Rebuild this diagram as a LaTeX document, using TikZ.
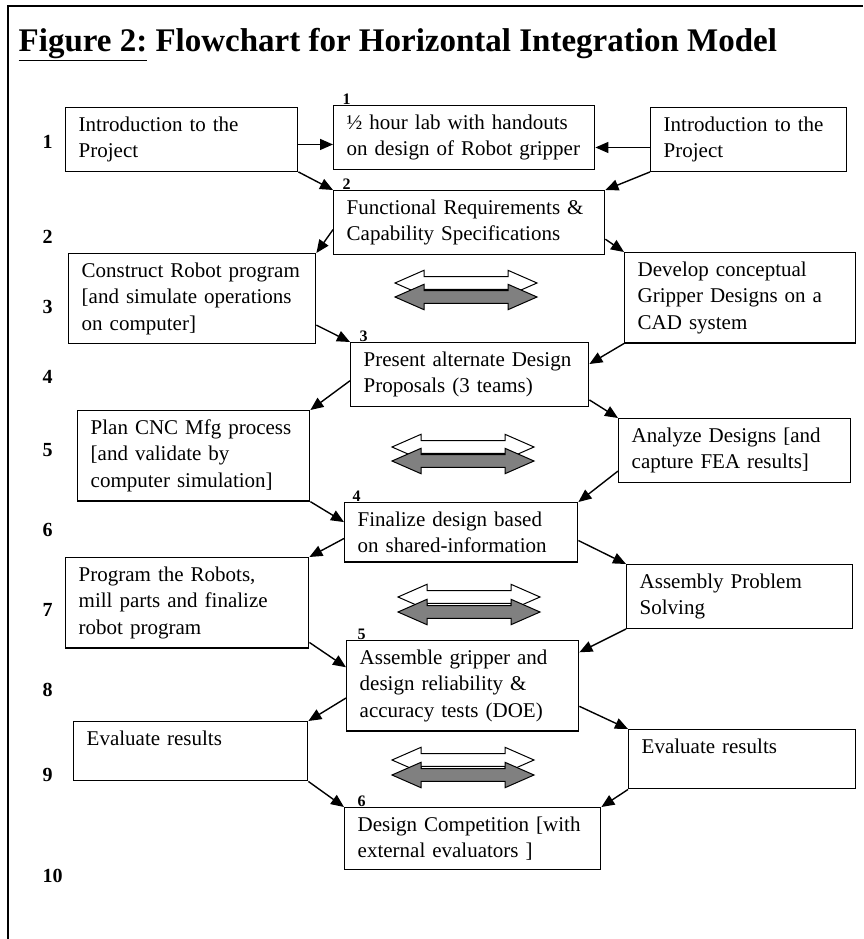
\documentclass[tikz,border=0pt]{standalone}
\usepackage{fontspec}
\setmainfont{Liberation Serif}
\usetikzlibrary{arrows.meta}
\newcommand\boxfont{\fontsize{21}{26.5}\selectfont}
\definecolor{arrow_gray}{RGB}{128,128,128}

\begin{document}
\begin{tikzpicture}[->,>={Triangle[length=13pt,width=11pt]},line width=1.4pt,x=1pt,y=-1pt]
    \tikzstyle{stage}=[draw, line width=1.4pt, anchor=north west, align=left, inner xsep=13pt, inner ysep=9pt, font=\boxfont]
    \tikzstyle{rownum}=[anchor=west, inner sep=0pt, font=\bfseries\fontsize{20}{20}\selectfont]
    \tikzstyle{steplbl}=[anchor=south west, inner sep=0pt, font=\bfseries\fontsize{16}{16}\selectfont]

    \useasboundingbox (0,0) rectangle (863,939);
    \draw[-, line width=2pt] (8,939) -- (8,6) -- (863,6);

    \node[anchor=base west, inner sep=0pt, font=\bfseries\fontsize{33}{33}\selectfont] (title) at (18,52)
      {\underline{Figure 2:} Flowchart for Horizontal Integration Model};

    \foreach \n/\y in {1/142, 2/237, 3/307, 4/377, 5/450, 6/530, 7/610, 8/690, 9/775, 10/876}
      \node[rownum] (row\n) at (42,\y) {\n};

    % left column
    \node[stage, text width=206pt] (l1) at (65,107)  {Introduction to the\\Project};
    \node[stage, text width=221pt] (l3) at (68,253)  {Construct Robot program\\{[}and simulate operations\\on computer]};
    \node[stage, text width=206pt] (l5) at (77,410)  {Plan CNC Mfg process\\{[}and validate by\\computer simulation]};
    \node[stage, text width=217pt] (l7) at (65,557)  {Program the Robots,\\mill parts and finalize\\robot program};
    \node[stage, text width=208pt] (l9) at (73,721)  {Evaluate results\\\mbox{}};
    % centre column
    \node[stage, text width=235pt] (c1) at (333,105) {\char"00BD{} hour lab with handouts\\on design of Robot gripper};
    \node[stage, text width=245pt] (c2) at (333,190) {Functional Requirements \&\\Capability Specifications};
    \node[stage, text width=212pt] (c3) at (350,342) {Present alternate Design\\Proposals (3 teams)};
    \node[stage, text width=207pt] (c4) at (344,502) {Finalize design based\\on shared-information};
    \node[stage, text width=206pt] (c5) at (346,640) {Assemble gripper and\\design reliability \&\\accuracy tests (DOE)};
    \node[stage, text width=230pt] (c6) at (344,807) {Design Competition [with\\external evaluators ]};
    % right column
    \node[stage, text width=170pt] (r1) at (650,107) {Introduction to the\\Project};
    \node[stage, text width=205pt] (r3) at (624,252) {Develop conceptual\\Gripper Designs on a\\CAD system};
    \node[stage, text width=206pt] (r5) at (618,418) {Analyze Designs [and\\capture FEA results]};
    \node[stage, text width=200pt] (r7) at (626,564) {Assembly Problem\\Solving};
    \node[stage, text width=201pt] (r9) at (628,729) {Evaluate results\\\mbox{}};

    \node[steplbl] (s1) at ([xshift=9pt]c1.north west) {1};
    \node[steplbl] (s2) at ([xshift=9pt]c2.north west) {2};
    \node[steplbl] (s3) at ([xshift=9pt]c3.north west) {3};
    \node[steplbl] (s4) at ([xshift=8pt]c4.north west) {4};
    \node[steplbl] (s5) at ([xshift=11pt]c5.north west) {5};
    \node[steplbl] (s6) at ([xshift=13pt]c6.north west) {6};

    % exchange arrows between the teams
    \foreach \cx/\cy/\tone in {466/283/white, 466/297/arrow_gray, 463/447/white, 463/461/arrow_gray,
                               469/597/white, 469/612/arrow_gray, 463/760/white, 463/775/arrow_gray}
      \draw[-, line width=1pt, fill=\tone] (\cx-71,\cy) -- ++(29,-12.7) -- ++(0,6.4) -- ++(84,0) -- ++(0,-6.4)
        -- ++(29,12.7) -- ++(-29,12.7) -- ++(0,-6.4) -- ++(-84,0) -- ++(0,6.4) -- cycle;

    \path
     ([yshift=-5pt]l1.east) edge ([yshift=-5pt]l1.east -| c1.west)
     ([yshift=-8pt]r1.west) edge ([yshift=-8pt]r1.west -| c1.east)
     (l1.south east) edge (c2.north west)
     (r1.south west) edge (c2.north east)
     (c2.183) edge (l3.north east)
     (c2.353) edge (r3.north west)
     (l3.348) edge (c3.north west)
     (r3.south west) edge (c3.5)
     (c3.183) edge (l5.north east)
     (c3.348) edge (r5.north west)
     (l5.south east) edge (c4.175)
     (r5.190) edge (c4.north east)
     (c4.183) edge (l7.north east)
     (c4.356) edge (r7.north west)
     (l7.342) edge (c5.171)
     (r7.south west) edge (c5.16)
     (c5.186) edge (l9.north east)
     (c5.350) edge (r9.north west)
     (l9.south east) edge (c6.north west)
     (r9.south west) edge (c6.north east)
     ;
\end{tikzpicture}
\end{document}
